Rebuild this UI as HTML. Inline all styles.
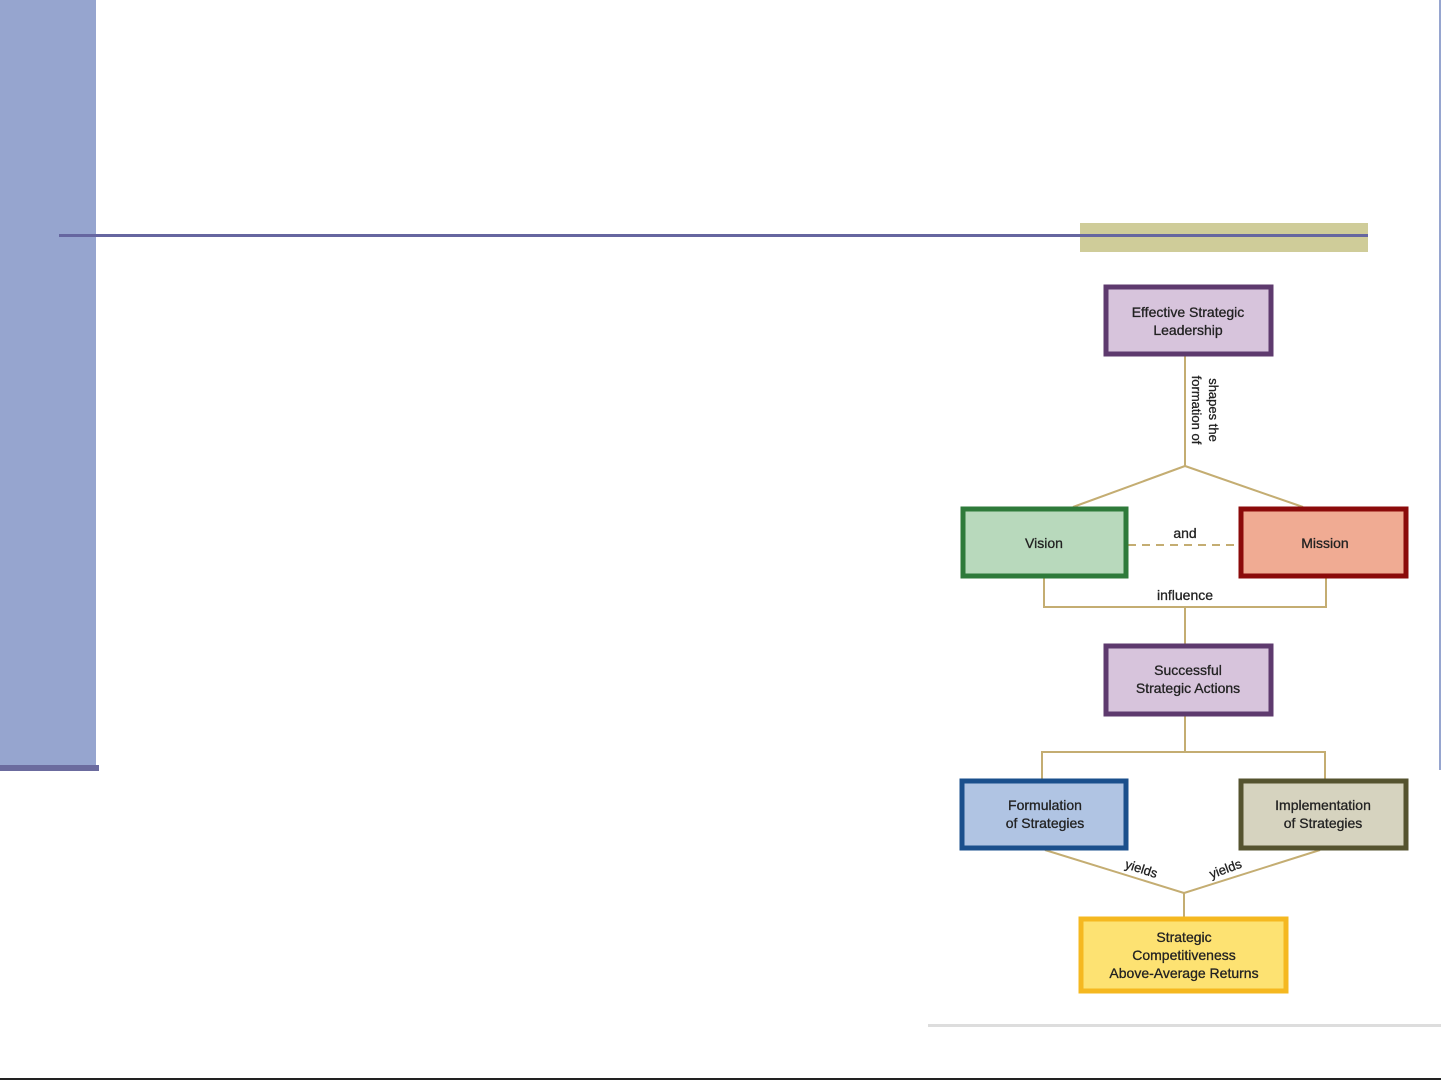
<!DOCTYPE html>
<html><head><meta charset="utf-8"><style>
html,body{margin:0;padding:0;background:#fff;}
body{width:1441px;height:1081px;position:relative;overflow:hidden;font-family:"Liberation Sans",sans-serif;}
</style></head><body>
<svg width="1441" height="1081" viewBox="0 0 1441 1081" xmlns="http://www.w3.org/2000/svg" style="position:absolute;left:0;top:0">
<defs><marker id="a" markerWidth="6" markerHeight="6" refX="3" refY="3" orient="auto"><path d="M0,0 L6,3 L0,6 z" fill="#b09a5a"/></marker></defs>
<rect x="0" y="0" width="96" height="765" fill="#96a5cf"/>
<rect x="0" y="765" width="99" height="6" fill="#6b6b9e"/>
<rect x="1080" y="223" width="288" height="29" fill="#cfcc99"/>
<rect x="59" y="234" width="1309" height="3" fill="#6666a0"/>
<rect x="1439" y="0" width="2" height="770" fill="#96a5cf"/>
<rect x="928" y="1024" width="513" height="3" fill="#dddddd"/>
<rect x="0" y="1078" width="1441" height="2" fill="#222"/>

<g stroke="#c4ad72" stroke-width="2" fill="none">
<line x1="1185" y1="356" x2="1185" y2="466" marker-mid="url(#a)"/>
<line x1="1185" y1="466" x2="1073" y2="507"/>
<line x1="1185" y1="466" x2="1303" y2="507"/>
<line x1="1128" y1="545" x2="1239" y2="545" stroke-dasharray="8,6"/>
<polyline points="1044,578 1044,607 1326,607 1326,578"/>
<line x1="1185" y1="607" x2="1185" y2="644"/>
<line x1="1185" y1="716" x2="1185" y2="752"/>
<polyline points="1042,779 1042,752 1325,752 1325,779"/>
<line x1="1045" y1="850" x2="1184" y2="893"/>
<line x1="1320" y1="850" x2="1184" y2="893"/>
<line x1="1184" y1="893" x2="1184" y2="917"/>
</g>

<g stroke-width="5">
<rect x="1106" y="287" width="165" height="67" fill="#d7c4dc" stroke="#5e3a6e"/>
<rect x="963" y="509" width="163" height="67" fill="#b8d9bc" stroke="#2e7a3a"/>
<rect x="1241" y="509" width="165" height="67" fill="#f0ab93" stroke="#8b0a0a"/>
<rect x="1106" y="646" width="165" height="68" fill="#d7c4dc" stroke="#5e3a6e"/>
<rect x="962" y="781" width="164" height="67" fill="#b0c4e3" stroke="#1a4f8c"/>
<rect x="1241" y="781" width="165" height="67" fill="#d6d3bf" stroke="#55532f"/>
<rect x="1081" y="919" width="205" height="72" fill="#fde272" stroke="#f5b820"/>
</g>

<g font-family="Liberation Sans, sans-serif" font-size="14" fill="#222" text-anchor="middle" stroke="#222" stroke-width="0.3">
<text x="1188" y="317">Effective Strategic</text>
<text x="1188" y="335">Leadership</text>
<text x="1044" y="548">Vision</text>
<text x="1325" y="548">Mission</text>
<text x="1185" y="538">and</text>
<text x="1185" y="600">influence</text>
<text x="1188" y="675">Successful</text>
<text x="1188" y="693">Strategic Actions</text>
<text x="1045" y="810">Formulation</text>
<text x="1045" y="828">of Strategies</text>
<text x="1323" y="810">Implementation</text>
<text x="1323" y="828">of Strategies</text>
<text x="1184" y="942">Strategic</text>
<text x="1184" y="960">Competitiveness</text>
<text x="1184" y="978">Above-Average Returns</text>
<text transform="translate(1209,410) rotate(90)" font-size="13">shapes the</text>
<text transform="translate(1192,410) rotate(90)" font-size="13">formation of</text>
<text transform="translate(1140,873) rotate(18)" font-size="13">yields</text>
<text transform="translate(1227,873) rotate(-20)" font-size="13">yields</text>
</g>
</svg>
</body></html>
